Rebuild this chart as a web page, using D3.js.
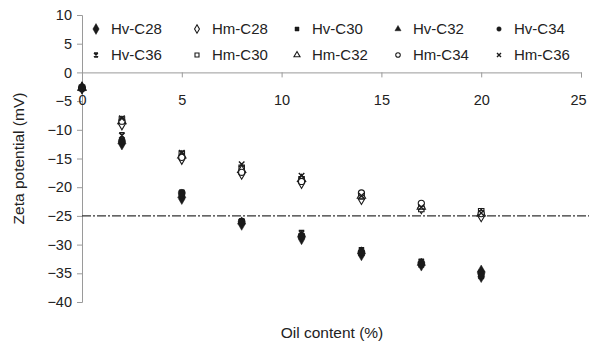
<!DOCTYPE html>
<html>
<head>
<meta charset="utf-8">
<script src="https://cdn.jsdelivr.net/npm/d3@7"></script>
<style>
  body { margin: 0; background: #fff; }
  svg text { font-family: "Liberation Sans", Arial, sans-serif; fill: #222; }
</style>
</head>
<body>
<svg id="chart" width="589" height="343"></svg>
<script>
// Oil content (%) at which zeta potential was measured
const oilContent = [0, 2, 5, 8, 11, 14, 17, 20];

// Zeta potential (mV) per sample
const hvC28 = [-2.7, -12.5, -22.0, -26.5, -29.0, -31.8, -33.6, -35.6];
const hmC28 = [-2.7, -9.0, -15.0, -17.6, -19.2, -22.0, -23.6, -25.0];
const hvC30 = [-2.7, -12.0, -21.5, -26.0, -28.5, -31.5, -33.5, -35.5];
const hvC32 = [-2.7, -12.0, -21.4, -26.0, -28.3, -31.2, -33.2, -34.4];
const hvC34 = [-2.7, -12.0, -21.0, -26.0, -28.5, -31.3, -33.2, -35.0];
const hvC36 = [-2.7, -11.0, -21.0, -26.0, -28.0, -31.0, -33.0, -35.0];
const hmC30 = [-2.7, -8.2, -14.2, -16.6, -18.6, -21.6, -23.8, -24.2];
const hmC32 = [-2.7, -8.5, -14.5, -17.0, -18.6, -21.5, -23.4, -24.6];
const hmC34 = [-2.7, -8.5, -14.8, -17.4, -19.0, -21.0, -22.8, -24.6];
const hmC36 = [-2.7, -8.0, -14.0, -16.0, -18.0, -21.5, -23.5, -24.5];

// Legend order (row by row) and marker styles
const seriesNames = ["Hv-C28", "Hm-C28", "Hv-C30", "Hv-C32", "Hv-C34",
                     "Hv-C36", "Hm-C30", "Hm-C32", "Hm-C34", "Hm-C36"];
const seriesValues = [hvC28, hmC28, hvC30, hvC32, hvC34,
                      hvC36, hmC30, hmC32, hmC34, hmC36];
const seriesMarkers = ["diamond", "diamond", "square", "triangle", "circle",
                       "star", "square", "triangle", "circle", "cross"];
const seriesFilled = [true, false, true, true, true,
                      true, false, false, false, true];
// painting order: open markers first, filled circle on top
const drawOrder = [1, 6, 7, 8, 9, 5, 0, 2, 3, 4];

const xTicks = [0, 5, 10, 15, 20, 25];
const yTicks = [10, 5, 0, -5, -10, -15, -20, -25, -30, -35, -40];
const thresholdValue = -25;

const svg = d3.select("#chart");
const W = 589;

const x = d3.scaleLinear().domain([0, 25]).range([82, 581]);
const y = d3.scaleLinear().domain([-40, 10]).range([302, 15]);

const axisColor = "#9a9a9a";
const ink = "#1a1a1a";

// y axis
const yAxis = svg.append("g")
  .attr("transform", `translate(${x(0)},0)`)
  .call(d3.axisLeft(y).tickValues(yTicks).tickSize(5).tickPadding(5)
    .tickFormat(d => d < 0 ? "\u2212" + Math.abs(d) : String(d)));
yAxis.select(".domain").attr("stroke", axisColor);
yAxis.selectAll(".tick line").attr("stroke", axisColor);
yAxis.selectAll(".tick text").style("font-size", "14.5px").attr("fill", "#222");

// x axis crossing at zero
const xAxis = svg.append("g")
  .attr("transform", `translate(0,${y(0)})`)
  .call(d3.axisBottom(x).tickValues(xTicks).tickSize(5).tickPadding(17));
xAxis.select(".domain").attr("stroke", axisColor);
xAxis.selectAll(".tick line").attr("stroke", axisColor);
xAxis.selectAll(".tick text").style("font-size", "14.5px").attr("fill", "#222");
xAxis.selectAll(".tick text").filter(d => d === 25).attr("dx", "-3");

// reference line at -25 mV
svg.append("line")
  .attr("x1", x(0)).attr("x2", W)
  .attr("y1", y(thresholdValue)).attr("y2", y(thresholdValue))
  .attr("stroke", "#333").attr("stroke-width", 1.2)
  .attr("stroke-dasharray", "9,2,2,2");

// marker path generators
function markerPath(kind, size) {
  if (kind === "diamond") return d3.symbol(d3.symbolDiamond, size * 1.3)();
  if (kind === "square") return d3.symbol(d3.symbolSquare, size)();
  if (kind === "triangle") return d3.symbol(d3.symbolTriangle, size)();
  if (kind === "circle") return d3.symbol(d3.symbolCircle, size)();
  const r = Math.sqrt(size) / 2;
  if (kind === "cross") {
    return `M${-r},${-r}L${r},${r}M${-r},${r}L${r},${-r}`;
  }
  // star: x with bars on top and bottom
  return `M${-r},${-r}L${r},${r}M${-r},${r}L${r},${-r}M${-r},${-r}L${r},${-r}M${-r},${r}L${r},${r}`;
}

function drawMarker(g, kind, filled, size) {
  const p = g.append("path").attr("d", markerPath(kind, size));
  if (kind === "cross" || kind === "star") {
    p.attr("fill", "none").attr("stroke", ink).attr("stroke-width", 1.4);
  } else if (filled) {
    p.attr("fill", ink).attr("stroke", ink).attr("stroke-width", 0.5);
  } else {
    p.attr("fill", "#fff").attr("stroke", ink).attr("stroke-width", 1.1);
  }
  return p;
}

// data points
drawOrder.forEach(i => {
  const g = svg.append("g").attr("class", "series");
  seriesValues[i].forEach((v, j) => {
    const m = g.append("g")
      .attr("transform", `translate(${x(oilContent[j])},${y(v)})`);
    drawMarker(m, seriesMarkers[i], seriesFilled[i], i === 4 ? 40 : 30);
  });
});

// legend, two rows of five
const legendCols = [96, 197, 297, 398, 499];
const legendRows = [29, 55];
seriesNames.forEach((name, i) => {
  const col = i % 5, row = Math.floor(i / 5);
  const g = svg.append("g")
    .attr("transform", `translate(${legendCols[col]},${legendRows[row]})`);
  drawMarker(g, seriesMarkers[i], seriesFilled[i], i === 0 ? 26 : 16);
  g.append("text")
    .attr("x", 15).attr("y", 0).attr("dy", "0.35em")
    .style("font-size", "15px")
    .text(name);
});

// axis titles
svg.append("text")
  .attr("transform", `translate(19,${(y(10) + y(-40)) / 2}) rotate(-90)`)
  .attr("text-anchor", "middle").attr("dy", "0.35em")
  .style("font-size", "15.5px")
  .text("Zeta potential (mV)");

svg.append("text")
  .attr("x", 332).attr("y", 333).attr("dy", "0.35em")
  .attr("text-anchor", "middle")
  .style("font-size", "15.5px")
  .text("Oil content (%)");
</script>
</body>
</html>
